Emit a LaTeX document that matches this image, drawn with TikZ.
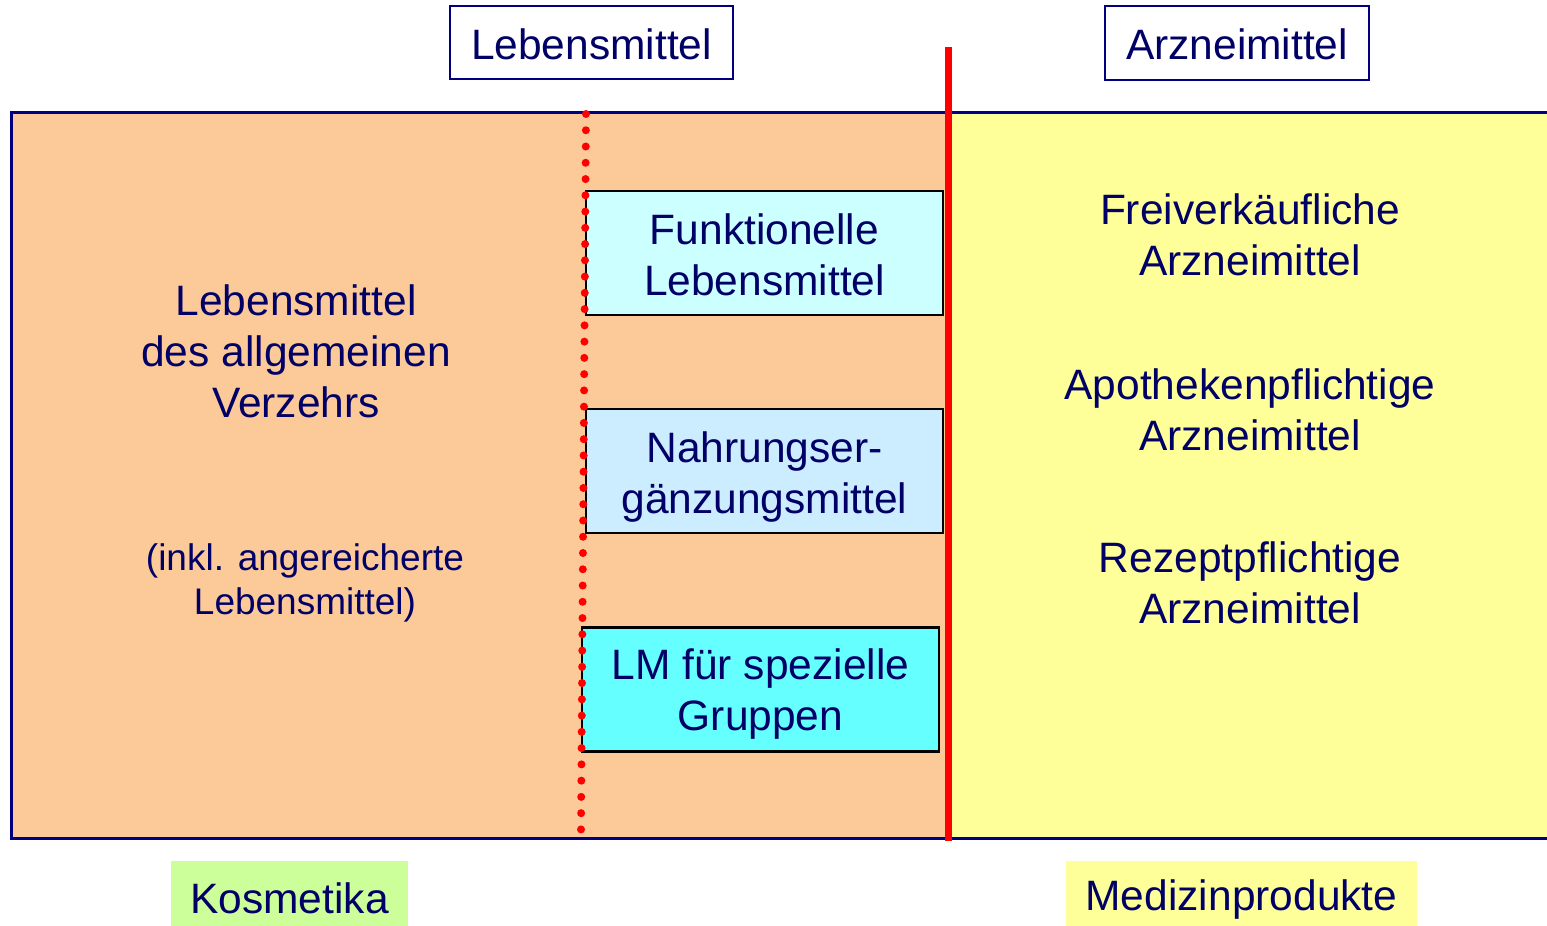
\documentclass[tikz,border=0pt]{standalone}
\usepackage{fontspec}
\setmainfont{Liberation Sans}
\definecolor{navy}{HTML}{000066}
\definecolor{framenavy}{HTML}{000080}
\definecolor{orangefill}{HTML}{FCC999}
\definecolor{yellowfill}{HTML}{FFFF99}
\definecolor{cyanlight}{HTML}{CCFFFF}
\definecolor{bluelight}{HTML}{CCECFF}
\definecolor{cyanmid}{HTML}{66FFFF}
\definecolor{greenfill}{HTML}{CCFF99}
\definecolor{redline}{HTML}{FF0000}
\tikzset{
  big/.style={font=\fontsize{42.5}{51}\selectfont, text=navy, align=center},
  small/.style={font=\fontsize{37}{44}\selectfont, text=navy, align=center},
  topbox/.style={draw=framenavy, line width=2.5pt, fill=white, inner sep=0pt},
  innerbox/.style={draw=black, line width=2.5pt, inner sep=0pt, minimum width=357pt, minimum height=124pt},
  labelbox/.style={draw=none, inner sep=0pt, minimum height=65pt},
}
\begin{document}
\begin{tikzpicture}[x=1pt,y=-1pt]
\useasboundingbox (0,0) rectangle (1547,926);
\clip (0,0) rectangle (1547,926);
% frame
\fill[orangefill] (11,112) rectangle (948,838);
\fill[yellowfill] (948,112) rectangle (1560,838);
\draw[framenavy, line width=3pt] (11,112) rectangle (1560,838);
% inner boxes
\node[innerbox, fill=cyanlight, label={[big, yshift=-2pt]center:{Funktionelle\\Lebensmittel}}] (funk) at (764.5,253) {};
\node[innerbox, fill=bluelight, label={[big, yshift=-6pt]center:{Nahrungser-\\gänzungsmittel}}] (nem) at (764.5,471) {};
\node[innerbox, fill=cyanmid, label={[big, yshift=-5pt]center:{LM für spezielle\\Gruppen}}] (lmsg) at (760.5,689.5) {};
% dotted red line
\coordinate (dtop) at (586,114);
\coordinate (dbot) at (581,830);
\draw[redline, line width=8pt, line cap=round, dash pattern=on 0pt off 16.26pt] (dtop) -- (dbot);
% red solid line
\coordinate (rtop) at (948,47);
\coordinate (rbot) at (948,841);
\draw[redline, line width=7pt] (rtop) -- (rbot);
% top labels
\node[topbox, minimum width=283pt, minimum height=73pt, label={[big, yshift=-2pt]center:Lebensmittel}] (lm) at (591.5,42.5) {};
\node[topbox, minimum width=264pt, minimum height=74pt, label={[big, yshift=-1pt]center:Arzneimittel}] (am) at (1237,43) {};
% left texts
\node[big] (lmadv) at (296,351) {Lebensmittel\\des allgemeinen\\Verzehrs};
\node[small] (inkl) at (305,583) {(inkl. angereicherte\\Lebensmittel)};
% right texts
\node[big] (frei) at (1250,235) {Freiverkäufliche\\Arzneimittel};
\node[big] (apo) at (1250,410) {Apothekenpflichtige\\Arzneimittel};
\node[big] (rez) at (1250,583) {Rezeptpflichtige\\Arzneimittel};
% bottom labels
\node[labelbox, fill=greenfill, minimum width=237pt, label={[big, yshift=-5pt]center:Kosmetika}] (kos) at (289.5,893.5) {};
\node[labelbox, fill=yellowfill, minimum width=351pt, label={[big, yshift=-6pt]center:Medizinprodukte}] (med) at (1241.5,893.5) {};
\end{tikzpicture}
\end{document}
